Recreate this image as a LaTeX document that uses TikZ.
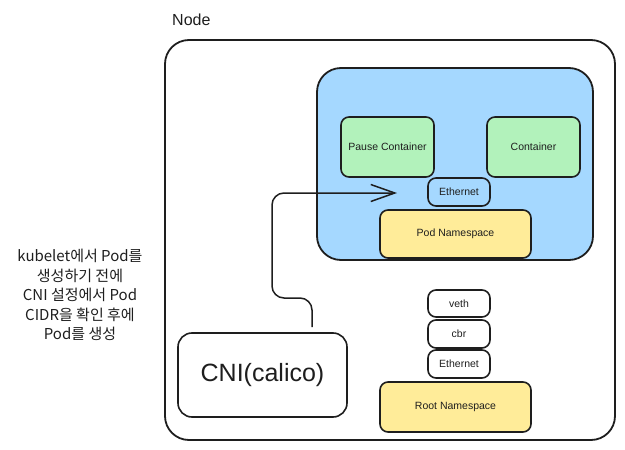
\documentclass[tikz,border=0pt]{standalone}
\usepackage{fontspec}
\setmainfont{Liberation Sans}
\newfontfamily\kr{Noto Sans CJK KR}
\usetikzlibrary{arrows.meta}
\definecolor{podblue}{HTML}{A5D8FF}
\definecolor{cgreen}{HTML}{B2F2BB}
\definecolor{nsyellow}{HTML}{FFEC99}
\definecolor{ink}{HTML}{1E1E1E}
\begin{document}
\begin{tikzpicture}[x=1pt,y=-1pt,
  box/.style={draw=ink, line width=1.6pt, rounded corners=8pt, inner sep=0pt,
    font=\fontsize{10.5}{12}\selectfont, text=ink},
  bigbox/.style={draw=ink, line width=1.8pt, rounded corners=24pt, inner sep=0pt},
  conn/.style={draw=ink, line width=1.5pt, rounded corners=12pt,
    -{Straight Barb[length=24pt,width=17pt,line width=1.5pt]}}]
\useasboundingbox (0,0) rectangle (625,450);
\node[anchor=west, inner sep=0pt, font=\fontsize{16}{18}\selectfont, text=ink] (lbl) at (172,20) {Node};
\node[bigbox, minimum width=450pt, minimum height=400pt] (nodebox) at (390,240) {};
\node[bigbox, fill=podblue, minimum width=276pt, minimum height=192pt] (pod) at (455,164) {};
\node[box, fill=cgreen, minimum width=93pt, minimum height=60pt] (pause) at (387.5,147) {Pause Container};
\node[box, fill=cgreen, minimum width=93pt, minimum height=60pt] (cont) at (533.5,147) {Container};
\node[box, minimum width=62pt, minimum height=28pt] (eth1) at (459,192) {Ethernet};
\node[box, fill=nsyellow, minimum width=151pt, minimum height=48pt] (podns) at (455.5,234) {Pod Namespace};
\node[box, rounded corners=14pt, fill=white, minimum width=169pt, minimum height=84pt,
  font=\fontsize{25}{28}\selectfont] (cni) at (262.5,375) {CNI(calico)};
\node[box, minimum width=62pt, minimum height=27pt] (veth) at (459,303.5) {veth};
\node[box, minimum width=62pt, minimum height=28pt] (cbr) at (459,334) {cbr};
\node[box, minimum width=62pt, minimum height=28pt] (eth2) at (459,364) {Ethernet};
\node[box, fill=nsyellow, minimum width=151pt, minimum height=50pt] (rootns) at (455.5,407) {Root Namespace};
\node[align=center, text=ink, font=\kr\fontsize{15}{19.5}\selectfont] (note) at (80,295)
  {kubelet에서 Pod를\\생성하기 전에\\CNI 설정에서 Pod\\CIDR을 확인 후에\\Pod를 생성};
\coordinate (start) at (312,327);
\coordinate (tip) at (397,193);
\draw[conn] (start) -- (312,298) -- (272,298) -- (272,193) -- (tip);
\end{tikzpicture}
\end{document}
